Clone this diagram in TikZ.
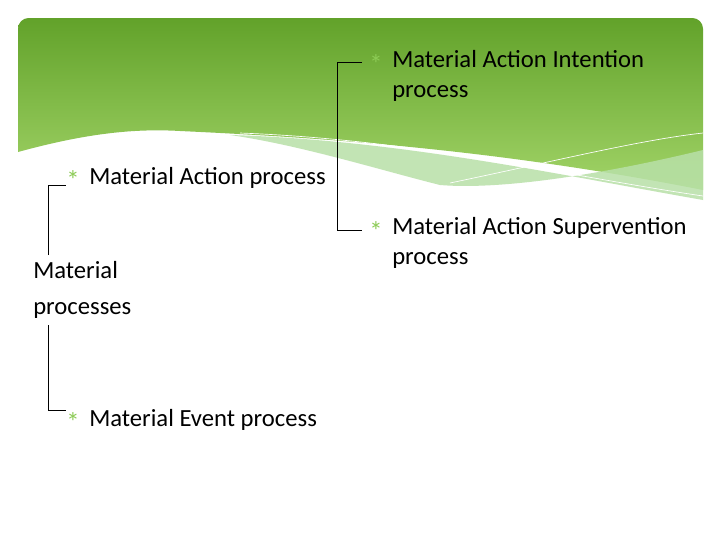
\documentclass[tikz,border=0pt]{standalone}
\usepackage{fontspec}
\setmainfont{Carlito}
\definecolor{topg}{HTML}{62A22A}
\definecolor{botg}{HTML}{A2D468}
\definecolor{band}{HTML}{B8E0A8}
\definecolor{starg}{HTML}{8CCB55}
\begin{document}
\begin{tikzpicture}[x=0.75pt,y=-0.75pt,
  item/.style={anchor=west,inner sep=0pt,font=\fontsize{18.5}{22.5}\selectfont,align=left},
  star/.style={anchor=center,inner sep=0pt,text=starg,font=\fontsize{20}{20}\selectfont},
  bracket/.style={black,line width=0.6pt}]
\useasboundingbox (0,0) rectangle (720,540);
\fill[white] (0,0) rectangle (720,540);
% header
\shade[top color=topg, bottom color=botg]
  (18,152) .. controls (80,135) and (130,128) .. (180,131)
  .. controls (330,138) and (500,150) .. (703,190)
  [rounded corners=8pt] -- (703,18) -- (18,18) [sharp corners] -- cycle;
\fill[band,opacity=0.85] (230,135) .. controls (400,140) and (560,175) .. (703,200)
  -- (703,150) .. controls (600,175) and (500,190) .. (440,185) .. controls (380,170) and (300,145) .. cycle;
\draw[white,line width=0.5pt] (240,133) .. controls (420,140) and (560,175) .. (703,196);
\draw[white,line width=0.5pt] (450,183) .. controls (560,160) and (640,140) .. (703,133);
% texts
\node[item,font=\fontsize{18.5}{27}\selectfont] (mp) at (33,290) {Material\\processes};
\node[star] (s1) at (73,180) {*};
\node[item] (ma) at (89,178) {Material Action process};
\node[star] (s2) at (73,422) {*};
\node[item] (me) at (89,420) {Material Event process};
\node[star] (s3) at (376,64) {*};
\node[item] (mi) at (392,76) {Material Action Intention\\process};
\node[star] (s4) at (376,231) {*};
\node[item] (ms) at (392,243) {Material Action Supervention\\process};
% brackets
\coordinate (a1) at (48,255); \coordinate (a2) at (48,185); \coordinate (a3) at (66,185);
\coordinate (b1) at (48,325); \coordinate (b2) at (48,410); \coordinate (b3) at (66,410);
\coordinate (c1) at (337,62); \coordinate (c2) at (362,62);
\coordinate (d1) at (337,230); \coordinate (d2) at (362,230);
\draw[bracket] (a1) -- (a2) -- (a3);
\draw[bracket] (b1) -- (b2) -- (b3);
\draw[bracket] (c2) -- (c1) -- (d1) -- (d2);
\end{tikzpicture}
\end{document}
